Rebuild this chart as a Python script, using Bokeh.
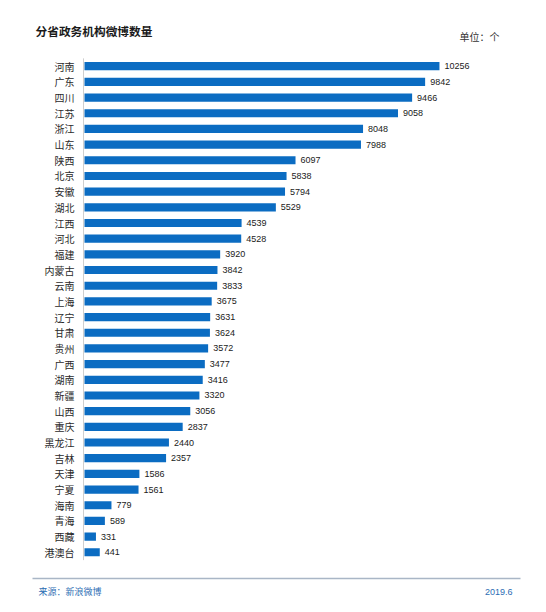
from bokeh.plotting import figure
from bokeh.models import ColumnDataSource, Label, Range1d
from bokeh.core.properties import value
from bokeh.embed import file_html
from bokeh.resources import INLINE

provinces = ["河南", "广东", "四川", "江苏", "浙江", "山东", "陕西", "北京", "安徽", "湖北",
             "江西", "河北", "福建", "内蒙古", "云南", "上海", "辽宁", "甘肃", "贵州", "广西",
             "湖南", "新疆", "山西", "重庆", "黑龙江", "吉林", "天津", "宁夏", "海南", "青海",
             "西藏", "港澳台"]
counts = [10256, 9842, 9466, 9058, 8048, 7988, 6097, 5838, 5794, 5529,
          4539, 4528, 3920, 3842, 3833, 3675, 3631, 3624, 3572, 3477,
          3416, 3320, 3056, 2837, 2440, 2357, 1586, 1561, 779, 589,
          331, 441]
title_text = "分省政务机构微博数量"
unit_text = "单位：个"
source_text = "来源：新浪微博"
date_text = "2019.6"

CJK = "Noto Sans CJK SC"
BAR = "#0b6cc2"

W, H = 546, 612
# layout: pixel position of value 0, pixels per unit, first row centre, row pitch
X0, KX, Y0, KY = 84.0, 0.03461, 65.7, 15.68


def X(px):
    return (px - X0) / KX


def Y(py):
    return (py - Y0) / KY


rows = list(range(len(provinces)))
src = ColumnDataSource(dict(r=rows, p=provinces, v=counts, lab=[str(c) for c in counts]))

p = figure(width=W, height=H, output_backend="svg", toolbar_location=None,
           x_range=Range1d(X(0), X(W)), y_range=Range1d(Y(H), Y(0)),
           x_axis_location=None, y_axis_location=None, min_border=0)
p.outline_line_color = None
p.grid.visible = False
p.background_fill_color = "white"
p.border_fill_color = "white"

p.hbar(y="r", right="v", left=0, height=0.52, source=src, color=BAR, line_color=None)
p.text(x="v", y="r", text="lab", source=src, x_offset=5, text_baseline="middle",
       text_font=value("Liberation Sans"), text_font_size="9px", text_color="#1a1a1a")
p.text(x=0, y="r", text="p", source=src, x_offset=-10, text_align="right",
       text_baseline="middle", text_font=value(CJK), text_font_size="10px",
       text_color="#2a2a2a")

# category axis line
p.segment(x0=[X(83)], x1=[X(83)], y0=[rows[0] - 0.5], y1=[rows[-1] + 0.5],
          line_color="#cfcfcf", line_width=1)
# footer rule
p.segment(x0=[X(32)], x1=[X(520)], y0=[Y(578)], y1=[Y(578)],
          line_color="#a9b6c6", line_width=1.5)

p.add_layout(Label(x=X(35), y=Y(29.5), text=title_text,
                   text_font=CJK, text_font_size="11.7px", text_font_style="bold",
                   text_color="#1a1a1a", text_baseline="middle"))
p.add_layout(Label(x=X(499), y=Y(36), text=unit_text,
                   text_font=CJK, text_font_size="10px", text_color="#333333",
                   text_baseline="middle", text_align="right"))
p.add_layout(Label(x=X(38), y=Y(591), text=source_text,
                   text_font=CJK, text_font_size="9px", text_color="#2b6cb3",
                   text_baseline="middle"))
p.add_layout(Label(x=X(512), y=Y(591), text=date_text,
                   text_font="Liberation Sans", text_font_size="9px", text_color="#2b6cb3",
                   text_baseline="middle", text_align="right"))

open("out.html", "w").write(file_html(p, INLINE))
